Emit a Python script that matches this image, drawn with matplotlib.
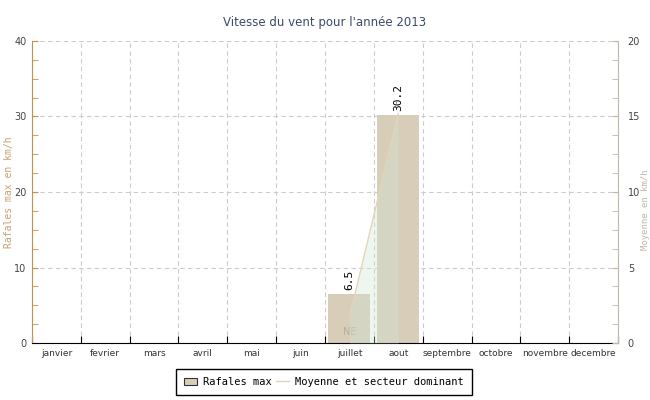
import matplotlib
matplotlib.use("Agg")
import matplotlib.pyplot as plt
import numpy as np
from matplotlib.ticker import MultipleLocator
from matplotlib.patches import Patch
from matplotlib.lines import Line2D

months = ["janvier", "fevrier", "mars", "avril", "mai", "juin", "juillet",
          "aout", "septembre", "octobre", "novembre", "decembre"]
rafales = [None, None, None, None, None, None, 6.5, 30.2, None, None, None, None]
moyenne = [None, None, None, None, None, None, 1.7, 15.2, None, None, None, None]
secteur = [None, None, None, None, None, None, "NE", None, None, None, None, None]

title = "Vitesse du vent pour l'année 2013"
mono = "DejaVu Sans Mono"

fig = plt.figure(figsize=(6.5, 4), dpi=100)
ax = fig.add_axes([32/650, 57/400, 586/650, 302/400])
ax2 = ax.twinx()

x = np.arange(len(months))
bar_color = "#d8cdb9"
for xi, v in zip(x, rafales):
    if v is not None:
        ax.bar(xi, v, width=0.86, color=bar_color, zorder=2)
        ax.text(xi, v + 0.5, f"{v}", rotation=90, ha="center", va="bottom",
                fontsize=8, family=mono, color="black", zorder=5)
for xi, s in zip(x, secteur):
    if s is not None:
        ax.text(xi, 0.8, s, ha="center", va="bottom", fontsize=7,
                color="#b8ae9c", zorder=5)

mx = [xi for xi, v in zip(x, moyenne) if v is not None]
my = [v for v in moyenne if v is not None]
ax2.fill_between(mx, my, 0, color="#cfe6d4", alpha=0.35, lw=0, zorder=3)
ax2.plot(mx, my, color="#e2d6b8", lw=1, zorder=4)

ax.set_xlim(-0.5, 11.5)
ax.set_ylim(0, 40)
ax2.set_ylim(0, 20)
ax.set_xticks(np.arange(-0.5, 12, 1))
ax.set_xticklabels([])
ax.set_xticks(x, minor=True)
ax.set_xticklabels(months, minor=True, fontsize=6.5)
ax.tick_params(axis="x", which="minor", length=0, pad=4, colors="#333333")
ax.tick_params(axis="x", which="major", length=5, direction="in", color="black")

ax.yaxis.set_major_locator(MultipleLocator(10))
ax.yaxis.set_minor_locator(MultipleLocator(2.5))
ax2.yaxis.set_major_locator(MultipleLocator(5))
ax2.yaxis.set_minor_locator(MultipleLocator(1.25))
ax.tick_params(axis="y", which="both", length=4, direction="in", color="#c8904a",
               labelsize=7, labelcolor="#444444", pad=4)
ax2.tick_params(axis="y", which="both", length=4, direction="in", color="#c0b8a8",
                labelsize=7, labelcolor="#444444", pad=7)

ax.grid(True, which="major", axis="both", ls=(0, (4, 3)), color="#cccccc", lw=0.8)
ax.set_axisbelow(True)

ax.spines["top"].set_visible(False)
ax2.spines["top"].set_visible(False)
ax.spines["right"].set_visible(False)
ax2.spines["left"].set_visible(False)
ax2.spines["bottom"].set_visible(False)
ax.spines["left"].set_color("#c8904a")
ax2.spines["right"].set_color("#c0b8a8")
ax.spines["bottom"].set_color("black")

ax.set_ylabel("Rafales max en km/h", family=mono, fontsize=7, color="#c8a070")
ax.yaxis.set_label_coords(-0.031, 0.5)
ax2.set_ylabel("Moyenne en km/h", family=mono, fontsize=6.5, color="#c0b8a8")
ax2.yaxis.set_label_coords(1.040, 0.44)

fig.suptitle(title, y=0.96, fontsize=8.5, color="#3a4a6a")

handles = [Patch(facecolor=bar_color, edgecolor="#333333", lw=0.8),
           Line2D([0], [0], color="#e2d6b8", lw=1)]
leg = fig.legend(handles, ["Rafales max", "Moyenne et secteur dominant"],
                 loc="center", bbox_to_anchor=(324/650, 1 - 382/400), ncol=2,
                 fancybox=False, framealpha=1, edgecolor="black",
                 prop={"family": mono, "size": 7.5}, handlelength=1.2,
                 handletextpad=0.6, columnspacing=0.4, borderpad=0.8)
leg.get_frame().set_linewidth(1)

fig.savefig("out.png", dpi=100)
